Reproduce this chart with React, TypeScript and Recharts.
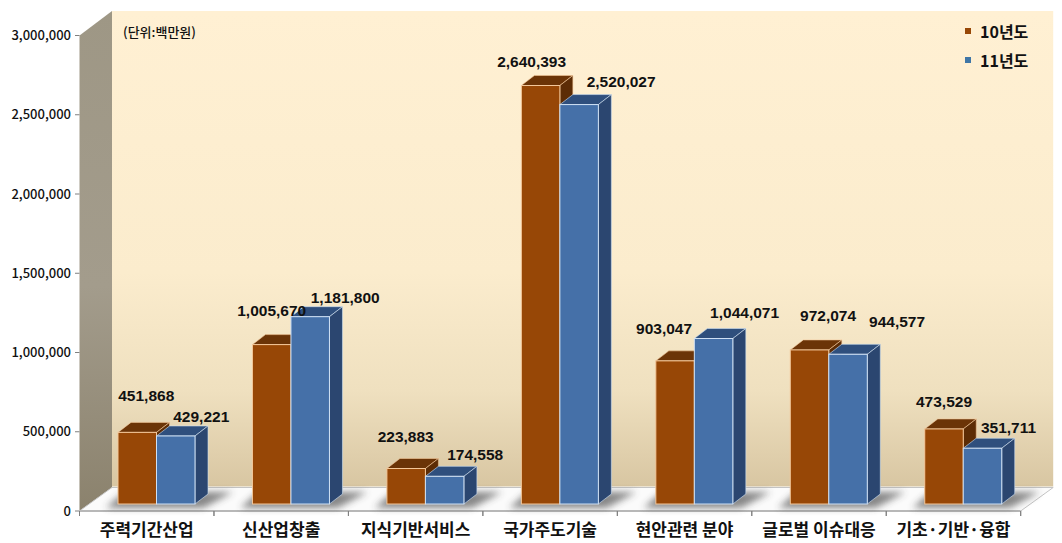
import { BarChart, Bar, XAxis, YAxis, LabelList } from 'recharts';

const CATEGORIES = ['주력기간산업', '신산업창출', '지식기반서비스', '국가주도기술', '현안관련 분야', '글로벌 이슈대응', '기초·기반·융합'];
const VALUES_10 = [451868, 1005670, 223883, 2640393, 903047, 972074, 473529];
const VALUES_11 = [429221, 1181800, 174558, 2520027, 1044071, 944577, 351711];
const Y_TICKS = [0, 500000, 1000000, 1500000, 2000000, 2500000, 3000000];

// hand-placed label offsets from the top of each bar, like the original
const LABEL_NUDGE_10 = [[9, -37], [0, -34], [-0.5, -32], [-9, -24], [-11, -32], [18.5, -34], [0, -27]];
const LABEL_NUDGE_11 = [[25.5, -19], [35, -19], [30.5, -22], [42, -23], [31, -26], [49, -32.5], [26, -21]];

const tableData = CATEGORIES.map((name, i) => ({ name, a: VALUES_10[i], b: VALUES_11[i] }));

const W = 1062;
const H = 543;
const LEFT = 79.5;
const RIGHT = 1020.7;
const TOP = 35.5;
const BOTTOM = 511;
const WALL_DX = 32.5;
const WALL_DY = 23.5;
const BAND = (RIGHT - LEFT) / CATEGORIES.length;

const SHIFT_X = 9.5;
const SHIFT_Y = -7;
const DEPTH_X = 13;
const DEPTH_Y = 10;

const FONT = '"Noto Sans CJK KR", "Noto Sans", sans-serif';

function Bar3D(props: any) {
  const { x, y, width, height, face, top, side, edge, withShadow } = props;
  const l = x + SHIFT_X;
  const r = l + width;
  const t = y + SHIFT_Y;
  const b = t + height;
  return (
    <g>
      {withShadow && (
        <polygon
          points={`${l - 12},${b + 4} ${l + 2 * width + 8},${b + 4} ${l + 2 * width + 38},${b - 12} ${l + 6},${b - 12}`}
          fill="#3a3a3a"
          opacity={0.6}
          filter="url(#floorBlur)"
        />
      )}
      <polygon points={`${l},${t} ${l + DEPTH_X},${t - DEPTH_Y} ${r + DEPTH_X},${t - DEPTH_Y} ${r},${t}`} fill={top} stroke={edge} strokeWidth={0.6} />
      <polygon points={`${r},${t} ${r + DEPTH_X},${t - DEPTH_Y} ${r + DEPTH_X},${b - DEPTH_Y} ${r},${b}`} fill={side} stroke={edge} strokeWidth={0.6} />
      <rect x={l} y={t} width={width} height={height} fill={face} stroke={edge} strokeWidth={1} />
    </g>
  );
}

function makeLabel(nudges: number[][]) {
  return function BarLabel(props: any) {
    const { x, y, width, value, index } = props;
    const [dx, dy] = nudges[index];
    return (
      <text
        x={x + SHIFT_X + width / 2 + dx}
        y={y + SHIFT_Y + dy}
        textAnchor="middle"
        dominantBaseline="central"
        fontFamily='"Liberation Sans", Arial, sans-serif'
        fontWeight={700}
        fontSize={15.5}
        fill="#111"
      >
        {Number(value).toLocaleString('en-US')}
      </text>
    );
  };
}

function CategoryTick(props: any) {
  const { x, y, payload, index } = props;
  const left = x - BAND / 2;
  return (
    <g>
      <line x1={left} x2={left} y1={BOTTOM} y2={BOTTOM + 5} stroke="#808080" />
      {index === CATEGORIES.length - 1 && <line x1={left + BAND} x2={left + BAND} y1={BOTTOM} y2={BOTTOM + 5} stroke="#808080" />}
      <text x={x} y={y + 17} textAnchor="middle" fontFamily={FONT} fontWeight={700} fontSize={17} fill="#111">
        {payload.value}
      </text>
    </g>
  );
}

function YearLegend() {
  const rows = [
    { label: '10년도', color: '#974706' },
    { label: '11년도', color: '#3f76a6' },
  ];
  return (
    <div style={{ position: 'absolute', left: 965, top: 16, fontFamily: FONT, fontWeight: 700, fontSize: 16, color: '#111' }}>
      {rows.map((row) => (
        <div key={row.label} style={{ display: 'flex', alignItems: 'center', height: 29 }}>
          <span style={{ width: 6, height: 6, background: row.color, marginRight: 9 }} />
          {row.label}
        </div>
      ))}
    </div>
  );
}

function Backdrop() {
  return (
    <g>
      <defs>
        <linearGradient id="backWall" x1="0" y1="0" x2="0" y2="1">
          <stop offset="0" stopColor="#fff0d3" />
          <stop offset="0.55" stopColor="#fbeccd" />
          <stop offset="0.8" stopColor="#efe0bf" />
          <stop offset="1" stopColor="#d8c6a2" />
        </linearGradient>
        <linearGradient id="sideWall" x1="0" y1="0" x2="0" y2="1">
          <stop offset="0" stopColor="#9e9785" />
          <stop offset="0.55" stopColor="#a39c8c" />
          <stop offset="1" stopColor="#8b826d" />
        </linearGradient>
        <filter id="floorBlur" x="-30%" y="-100%" width="160%" height="300%">
          <feGaussianBlur stdDeviation="3.5" />
        </filter>
      </defs>
      <rect x={LEFT + WALL_DX} y={TOP - WALL_DY - 1} width={RIGHT - LEFT} height={BOTTOM - TOP} fill="url(#backWall)" />
      <polygon
        points={`${LEFT},${TOP} ${LEFT + WALL_DX},${TOP - WALL_DY - 1} ${LEFT + WALL_DX},${BOTTOM - WALL_DY} ${LEFT},${BOTTOM}`}
        fill="url(#sideWall)"
      />
      <polygon
        points={`${LEFT},${BOTTOM} ${LEFT + WALL_DX},${BOTTOM - WALL_DY} ${RIGHT + WALL_DX},${BOTTOM - WALL_DY} ${RIGHT},${BOTTOM}`}
        fill="#fbfbfb"
        stroke="#c4c4c4"
        strokeWidth={1}
      />
      <text x={123} y={37} fontFamily={FONT} fontWeight={500} fontSize={13} fill="#111">
        (단위:백만원)
      </text>
    </g>
  );
}

// front edge of the floor has to sit over the shadows
function FloorEdge() {
  return (
    <g>
      <rect x={LEFT} y={BOTTOM - 1} width={RIGHT - LEFT} height={8} fill="#fff" />
      <line x1={LEFT} x2={RIGHT} y1={BOTTOM} y2={BOTTOM} stroke="#b8b8b8" strokeWidth={2} />
      {[...CATEGORIES, ''].map((_, i) => (
        <line key={i} x1={LEFT + i * BAND} x2={LEFT + i * BAND} y1={BOTTOM} y2={BOTTOM + 5} stroke="#808080" />
      ))}
    </g>
  );
}

export default function App() {
  return (
    <div style={{ position: 'absolute', left: 0, top: 0, width: W, height: H, background: '#fff' }}>
      <BarChart
        width={W}
        height={H}
        data={tableData}
        margin={{ top: TOP, right: W - RIGHT, bottom: 0, left: 0 }}
        barGap={0}
        barSize={38.5}
      >
        <Backdrop />
        <XAxis
          dataKey="name"
          height={H - BOTTOM}
          axisLine={false}
          tickLine={false}
          interval={0}
          tick={<CategoryTick />}
        />
        <YAxis
          width={LEFT}
          domain={[0, 3000000]}
          ticks={Y_TICKS}
          interval={0}
          axisLine={false}
          tickSize={4.5}
          tickMargin={4}
          tickLine={{ stroke: '#808080' }}
          tickFormatter={(v: number) => v.toLocaleString('en-US')}
          tick={{ fontFamily: FONT, fontSize: 13, fontWeight: 500, fill: '#111' }}
        />
        <Bar
          dataKey="a"
          name="10년도"
          isAnimationActive={false}
          shape={(p: any) => <Bar3D {...p} face="#974706" top="#6b3407" side="#5c2c05" edge="#f3c79a" withShadow />}
        >
          <LabelList dataKey="a" content={makeLabel(LABEL_NUDGE_10)} />
        </Bar>
        <Bar
          dataKey="b"
          name="11년도"
          isAnimationActive={false}
          shape={(p: any) => <Bar3D {...p} face="#4570a8" top="#2f4f7d" side="#2b4670" edge="#cfe0f4" />}
        >
          <LabelList dataKey="b" content={makeLabel(LABEL_NUDGE_11)} />
        </Bar>
        <FloorEdge />
      </BarChart>
      <YearLegend />
    </div>
  );
}
